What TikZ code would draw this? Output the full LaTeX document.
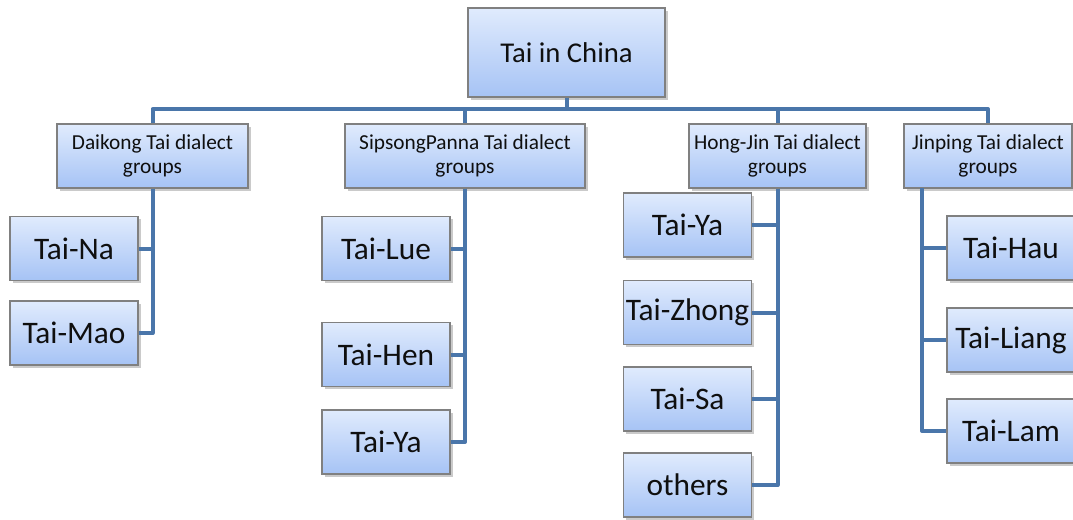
\documentclass[tikz,border=0pt]{standalone}
\usepackage{fontspec}
\setmainfont{Carlito}
\usetikzlibrary{shadows}
\definecolor{boxtop}{RGB}{224,235,253}
\definecolor{boxbot}{RGB}{166,195,245}
\definecolor{boxline}{RGB}{128,128,128}
\definecolor{conncol}{RGB}{74,118,170}
\definecolor{txt}{RGB}{15,15,15}
\tikzset{
  box/.style={draw=boxline, line width=0.8pt, top color=boxtop, bottom color=boxbot,
    inner sep=0pt, align=center, text=txt,
    drop shadow={shadow xshift=2pt, shadow yshift=-2pt, opacity=0.35, fill=black!60}},
  rootbox/.style={box, minimum width=147.75pt, minimum height=66.75pt, font=\fontsize{21.5}{25}\selectfont},
  groupbox/.style={box, minimum height=48pt, font=\fontsize{16}{18}\selectfont},
  leafbox/.style={box, minimum width=96pt, minimum height=48pt, font=\fontsize{23.5}{27}\selectfont},
  conn/.style={draw=conncol, line width=3pt, line join=round, line cap=butt}
}
\begin{document}
\begin{tikzpicture}[x=0.75pt,y=-0.75pt]
\useasboundingbox (0,0) rectangle (1073,519);
% root
\node[rootbox] (root) at (566.5,52.5) {Tai in China};
% groups
\node[groupbox, minimum width=143.25pt] (daikong) at (152.5,156) {Daikong Tai dialect\\groups};
\node[groupbox, minimum width=180pt] (sipsong) at (465,156) {SipsongPanna Tai dialect\\groups};
\node[groupbox, minimum width=132.75pt] (hongjin) at (777.5,156) {Hong-Jin Tai dialect\\groups};
\node[groupbox, minimum width=126pt] (jinping) at (988,156) {Jinping Tai dialect\\groups};
% leaves
\node[leafbox] (taina) at (74,248.5) {Tai-Na};
\node[leafbox] (taimao) at (74,333) {Tai-Mao};
\node[leafbox] (tailue) at (386,248.5) {Tai-Lue};
\node[leafbox] (taihen) at (386,354.5) {Tai-Hen};
\node[leafbox] (taiyaA) at (386,442) {Tai-Ya};
\node[leafbox] (taiyaB) at (687.5,225) {Tai-Ya};
\node[leafbox] (taizhong) at (687.5,312.5) {Tai-Zhong};
\node[leafbox] (taisa) at (687.5,399) {Tai-Sa};
\node[leafbox] (others) at (687.5,485) {others};
\node[leafbox] (taihau) at (1011,248) {Tai-Hau};
\node[leafbox] (tailiang) at (1011,340) {Tai-Liang};
\node[leafbox] (tailam) at (1011,431) {Tai-Lam};
\coordinate (bar) at (566.5,109);
\coordinate (jpdrop) at (922,188);
% connectors
\draw[conn] (root.south) -- (bar);
\draw[conn] (bar) -| (daikong.north);
\draw[conn] (bar) -| (sipsong.north);
\draw[conn] (bar) -| (hongjin.north);
\draw[conn] (bar) -| (jinping.north);
\draw[conn] (daikong.south) |- (taina.east);
\draw[conn] (daikong.south) |- (taimao.east);
\draw[conn] (sipsong.south) |- (tailue.east);
\draw[conn] (sipsong.south) |- (taihen.east);
\draw[conn] (sipsong.south) |- (taiyaA.east);
\draw[conn] (hongjin.south) |- (taiyaB.east);
\draw[conn] (hongjin.south) |- (taizhong.east);
\draw[conn] (hongjin.south) |- (taisa.east);
\draw[conn] (hongjin.south) |- (others.east);
\draw[conn] (jpdrop) |- (taihau.west);
\draw[conn] (jpdrop) |- (tailiang.west);
\draw[conn] (jpdrop) |- (tailam.west);
\end{tikzpicture}
\end{document}
